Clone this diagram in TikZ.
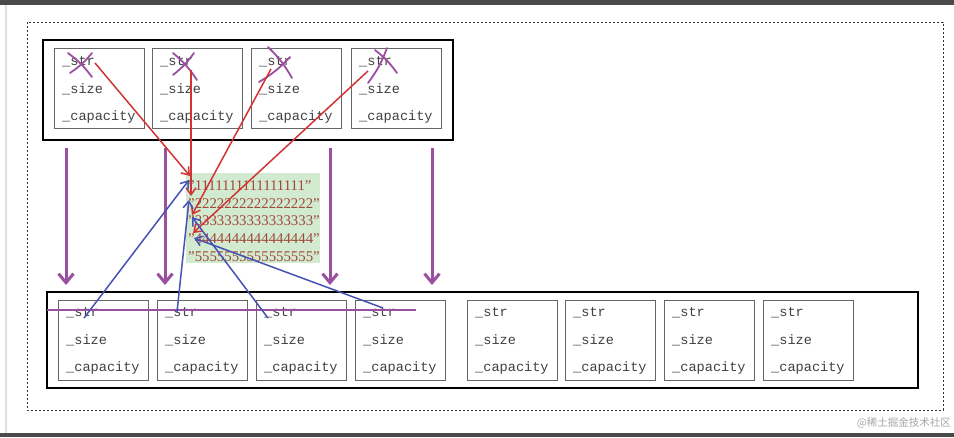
\documentclass[tikz,border=0pt]{standalone}
\usepackage{fontspec}
\setmainfont{Liberation Serif}
\setmonofont{Liberation Mono}
\newfontfamily\cjk{Noto Sans CJK SC}
\usetikzlibrary{arrows.meta}
\definecolor{pur}{HTML}{9B4FA0}
\definecolor{rd}{HTML}{D03434}
\definecolor{bl}{HTML}{4652B4}
\definecolor{grn}{HTML}{D2EAD0}
\definecolor{brn}{HTML}{A0483A}
\definecolor{bar}{HTML}{4A4A4A}
\tikzset{
  outer/.style={draw=black,line width=2pt},
  box/.style={draw=#1,line width=0.9pt,minimum width=90pt,minimum height=80pt,inner sep=0pt},
  box/.default={black!60},
  lbl/.style={font=\ttfamily\fontsize{13.6}{14}\selectfont,text=black!75,anchor=base west,inner sep=0pt},
  num/.style={font=\fontsize{14.8}{15}\selectfont,text=brn,anchor=base west,inner sep=0pt},
  down/.style={pur,line width=3pt,-{Straight Barb[length=9pt,width=15pt,line width=3pt]}},
  redarr/.style={rd,line width=1.5pt,-{Straight Barb[length=7pt,width=10pt]}},
  bluearr/.style={bl,line width=1.5pt,-{Straight Barb[length=7pt,width=10pt]}},
  cross/.style={pur,line width=1.8pt,line cap=round},
}
\begin{document}
\begin{tikzpicture}[x=1pt,y=-1pt]
\useasboundingbox (0,0) rectangle (954,437);
\fill[white] (0,0) rectangle (954,437);
% screenshot frame
\fill[bar] (0,0) rectangle (954,5);
\fill[bar] (0,433) rectangle (954,437);
\fill[black!12] (5,5) rectangle (7,433);
\draw[black!80,dashed,dash pattern=on 2pt off 2pt,line width=0.8pt] (27,22) rectangle (943,410);
% outer boxes
\node[outer,minimum width=410pt,minimum height=100pt,inner sep=0pt] (top) at (248,90) {};
\node[outer,minimum width=871pt,minimum height=96pt,inner sep=0pt] (bot) at (482.5,340) {};
% top boxes
\foreach \i/\x in {1/54,2/152,3/251,4/351}{
  \node[box] (t\i) at (\x+45,88.5) {};
  \node[lbl] (t\i s) at (\x+8,65) {\_str};
  \node[lbl] (t\i z) at (\x+8,93) {\_size};
  \node[lbl] (t\i c) at (\x+8,120.5) {\_capacity};
}
% bottom boxes
\foreach \i/\x in {1/58,2/157,3/256,4/355,5/467,6/565,7/664,8/763}{
  \node[box] (b\i) at (\x+45,340) {};
  \node[lbl] (b\i s) at (\x+8,316) {\_str};
  \node[lbl] (b\i z) at (\x+8,344) {\_size};
  \node[lbl] (b\i c) at (\x+8,371) {\_capacity};
}
% strings
\node[fill=grn,minimum width=134pt,minimum height=90pt,inner sep=0pt] (g) at (253,218) {};
\foreach \d/\y in {1/190,2/208,3/225.5,4/243,5/261}{
  \node[num] (s\d) at (188,\y) {”\d\d\d\d\d\d\d\d\d\d\d\d\d\d\d\d”};
}
% purple down arrows
\foreach \n/\x in {1/66,2/165,3/330,4/432}{
  \coordinate (pa\n) at (\x,148);
  \coordinate (pb\n) at (\x,285);
  \draw[down] (pa\n) -- (pb\n);
}
% crosses on top _str
\draw[cross] (68,53) to[bend left=8] (92,77) (70,73) to[bend right=8] (92,53);
\draw[cross] (173,53) to[bend left=8] (197,80) (173,75) to[bend right=8] (194,53);
\draw[cross] (268,47) to[bend left=8] (292,78) (259,82) to[bend right=8] (290,57);
\draw[cross] (375,50) to[bend left=8] (397,73) (368,83) to[bend right=8] (387,48);
% strike line over bottom _str
\coordinate (hl1) at (47,310);
\coordinate (hl2) at (416,310);
\draw[pur,line width=1.6pt] (hl1) -- (hl2);
% red arrows
\coordinate (r1a) at (95,63);  \coordinate (r1b) at (190,176);
\coordinate (r2a) at (191,70); \coordinate (r2b) at (191,196);
\coordinate (r3a) at (271,69); \coordinate (r3b) at (192,215);
\coordinate (r4a) at (368,71); \coordinate (r4b) at (193,233);
\draw[redarr] (r1a) -- (r1b);
\draw[redarr] (r2a) -- (r2b);
\draw[redarr] (r3a) -- (r3b);
\draw[redarr] (r4a) -- (r4b);
% blue arrows
\coordinate (u1a) at (84,318);  \coordinate (u1b) at (189,180);
\coordinate (u2a) at (177,312); \coordinate (u2b) at (189,200);
\coordinate (u3a) at (268,318); \coordinate (u3b) at (192,217);
\coordinate (u4a) at (383,308); \coordinate (u4b) at (194,238);
\draw[bluearr] (u1a) -- (u1b);
\draw[bluearr] (u2a) -- (u2b);
\draw[bluearr] (u3a) -- (u3b);
\draw[bluearr] (u4a) -- (u4b);
% watermark
\node[font=\cjk\fontsize{10.5}{11}\selectfont,text=black!35,anchor=east,inner sep=0pt] (wm) at (951,423) {@稀土掘金技术社区};
\end{tikzpicture}
\end{document}
